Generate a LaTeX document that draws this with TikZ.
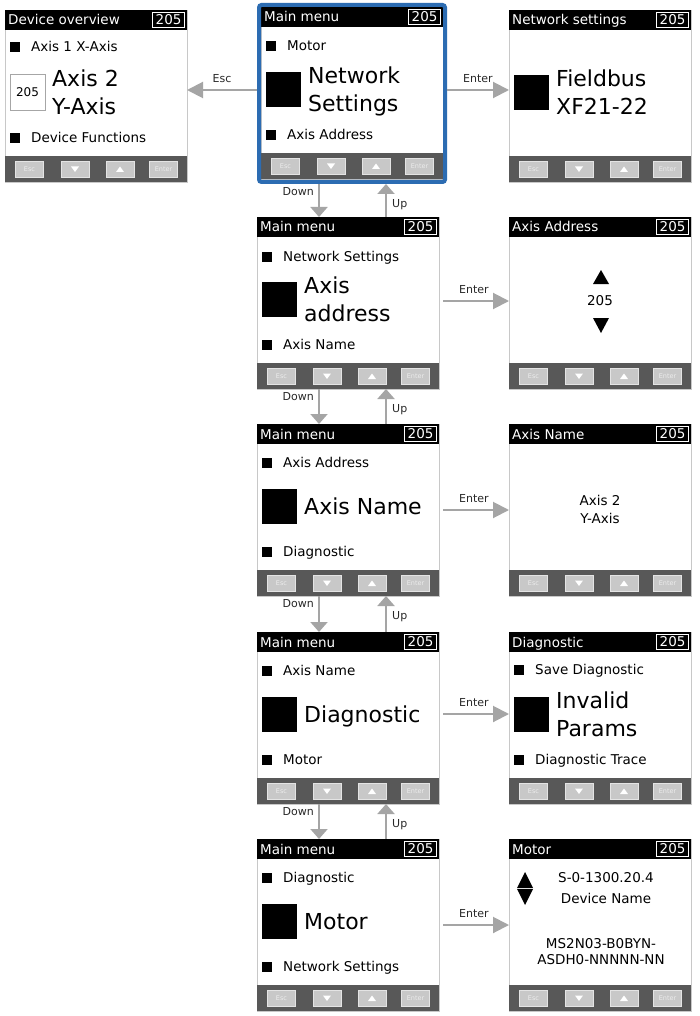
\documentclass[tikz,border=0pt]{standalone}
\usepackage{fontspec}
\setmainfont{DejaVu Sans}
\usetikzlibrary{arrows.meta}
\definecolor{conngray}{RGB}{165,165,165}
\definecolor{barg}{RGB}{88,88,88}
\definecolor{btng}{RGB}{200,200,200}
\definecolor{btnedge}{RGB}{228,228,228}
\definecolor{btntxt}{RGB}{236,236,236}
\definecolor{scredge}{RGB}{200,200,200}
\definecolor{frblue}{RGB}{44,108,178}
\definecolor{lblc}{RGB}{40,40,40}
\tikzset{
 scrbody/.style={draw=scredge, line width=0.8pt, fill=white, minimum width=182pt, minimum height=172pt, inner sep=0pt, outer sep=0pt, anchor=north west},
 tbar/.style={fill=black, minimum width=182pt, minimum height=20pt, inner sep=0pt, outer sep=0pt, anchor=north west},
 ttext/.style={text=white, font=\fontsize{13.5}{16}\selectfont, inner sep=0pt, anchor=base west},
 tnum/.style={draw=white, line width=0.9pt, text=white, font=\fontsize{13.5}{16}\selectfont, minimum width=32pt, minimum height=15pt, inner sep=0pt, text height=9.9pt, text depth=0pt, anchor=east},
 bbar/.style={fill=barg, minimum width=182pt, minimum height=26pt, inner sep=0pt, outer sep=0pt, anchor=south west},
 btn/.style={fill=btng, draw=btnedge, line width=0.8pt, minimum width=28pt, minimum height=16pt, inner sep=0pt, text=btntxt, font=\fontsize{6.5}{7}\selectfont, text height=4.7pt, text depth=0pt},
 bsq/.style={fill=black, minimum size=10pt, inner sep=0pt},
 btxt/.style={anchor=west, inner sep=0pt, font=\fontsize{13.5}{16}\selectfont, execute at begin node=\strut},
 bigsq/.style={fill=black, minimum size=35pt, inner sep=0pt},
 bigtxt/.style={anchor=west, inner sep=0pt, align=left, font=\fontsize{22}{28}\selectfont},
 numsq/.style={draw=gray!70, fill=white, line width=0.8pt, minimum width=35pt, minimum height=36pt, inner sep=0pt, font=\fontsize{12}{14}\selectfont},
 ctxt/.style={anchor=base, inner sep=0pt, font=\fontsize{13.5}{16}\selectfont},
 ctxt2/.style={anchor=center, inner sep=0pt, align=center, font=\fontsize{13.5}{18}\selectfont},
 lbl/.style={inner sep=0pt, text=lblc, font=\fontsize{11}{13}\selectfont},
 conn/.style={draw=conngray, line width=2pt, -{Triangle[length=16pt,width=16pt]}},
 vconn/.style={draw=conngray, line width=2pt, -{Triangle[length=10pt,width=17pt]}},
 bluefr/.style={draw=frblue, line width=4pt, rounded corners=2.5pt, minimum width=186pt, minimum height=177pt, inner sep=0pt, outer sep=2pt, anchor=north west},
}
\newcommand\myscreen[4]{%
  \node[scrbody] (#1) at (#2,#3) {};
  \node[tbar] (#1-bar) at (#1.north west) {};
  \node[ttext] (#1-title) at ([shift={(3pt,-15pt)}]#1.north west) {#4};
  \node[tnum] (#1-num) at ([xshift=-2pt]#1-bar.east) {205};
  \node[bbar] (#1-bb) at (#1.south west) {};
  \node[btn] (#1-b1) at ([xshift=24.5pt]#1-bb.west) {Esc};
  \node[btn] (#1-b2) at ([xshift=70pt]#1-bb.west) {};
  \node[btn] (#1-b3) at ([xshift=115pt]#1-bb.west) {};
  \node[btn] (#1-b4) at ([xshift=158.5pt]#1-bb.west) {Enter};
  \fill[white] ([shift={(-4pt,2.5pt)}]#1-b2.center) -- ++(8pt,0pt) -- ++(-4pt,-5.5pt) -- cycle;
  \fill[white] ([shift={(-4pt,-3pt)}]#1-b3.center) -- ++(8pt,0pt) -- ++(-4pt,5.5pt) -- cycle;
}
\newcommand\mybul[4]{%
  \node[bsq] (#1-sq) at ([shift={(10pt,-#3pt)}]#2.north west) {};
  \node[btxt] (#1) at ([shift={(26pt,-#3pt-1.7pt)}]#2.north west) {#4};
}
\newcommand\mybig[3]{%
  \node[bigsq] (#1-sq) at ([shift={(22.5pt,-82.5pt)}]#2.north west) {};
  \node[bigtxt] (#1) at ([shift={(47pt,-84.5pt)}]#2.north west) {#3};
}
\newcommand\updown[3]{%
  \draw[vconn] ([xshift=62pt]#1.south west) -- ([xshift=62pt]#2.north west);
  \draw[vconn] ([xshift=129pt]#2.north west) -- ([xshift=129pt]#1.south west);
  \node[lbl, anchor=east] (dn#3) at ([shift={(57pt,-8pt)}]#1.south west) {Down};
  \node[lbl, anchor=west] (up#3) at ([shift={(135pt,-21pt)}]#1.south west) {Up};
}
\begin{document}
\begin{tikzpicture}[x=1pt,y=-1pt]
\useasboundingbox[fill=white] (0,0) rectangle (699,1016);
% screens
\myscreen{s1}{5}{10}{Device overview}
\myscreen{s2}{261}{7}{Main menu}
\myscreen{s3}{509}{10}{Network settings}
\myscreen{m2}{257}{217}{Main menu}
\myscreen{m3}{257}{424}{Main menu}
\myscreen{m4}{257}{632}{Main menu}
\myscreen{m5}{257}{839}{Main menu}
\myscreen{d2}{509}{217}{Axis Address}
\myscreen{d3}{509}{424}{Axis Name}
\myscreen{d4}{509}{632}{Diagnostic}
\myscreen{d5}{509}{839}{Motor}
\node[bluefr] (s2f) at (257,3) {};
% device overview
\mybul{s1a}{s1}{37}{Axis 1 X-Axis}
\node[numsq] (s1box) at ([shift={(22.5pt,-82pt)}]s1.north west) {205};
\node[bigtxt] (s1big) at ([shift={(47pt,-84.5pt)}]s1.north west) {\strut Axis 2\\\strut Y-Axis};
\mybul{s1b}{s1}{128}{Device Functions}
% main menu top
\mybul{s2a}{s2}{39}{Motor}
\mybig{s2big}{s2}{\strut Network\\\strut Settings}
\mybul{s2c}{s2}{128}{Axis Address}
% network settings
\mybig{s3big}{s3}{\strut Fieldbus\\\strut XF21-22}
% main menu rows
\mybul{m2a}{m2}{39.5}{Network Settings}
\mybig{m2big}{m2}{\strut Axis\\\strut address}
\mybul{m2c}{m2}{128}{Axis Name}
\mybul{m3a}{m3}{39}{Axis Address}
\mybig{m3big}{m3}{\strut Axis Name}
\mybul{m3c}{m3}{128}{Diagnostic}
\mybul{m4a}{m4}{38.5}{Axis Name}
\mybig{m4big}{m4}{\strut Diagnostic}
\mybul{m4c}{m4}{128}{Motor}
\mybul{m5a}{m5}{38.5}{Diagnostic}
\mybig{m5big}{m5}{\strut Motor}
\mybul{m5c}{m5}{128}{Network Settings}
% axis address
\fill (593,284) -- (609,284) -- (601,270) -- cycle;
\node[ctxt] (d2num) at ([shift={(91pt,-88.5pt)}]d2.north west) {205};
\fill (593,318) -- (609,318) -- (601,333) -- cycle;
% axis name
\node[ctxt2] (d3t) at ([shift={(91pt,-87pt)}]d3.north west) {\strut Axis 2\\\strut Y-Axis};
% diagnostic
\mybul{d4a}{d4}{38}{Save Diagnostic}
\mybig{d4big}{d4}{\strut Invalid\\\strut Params}
\mybul{d4c}{d4}{128}{Diagnostic Trace}
% motor
\fill (517,888) -- (533,888) -- (525,872) -- cycle;
\fill (517,889) -- (533,889) -- (525,905) -- cycle;
\node[ctxt] (d5a) at ([shift={(97pt,-43pt)}]d5.north west) {S-0-1300.20.4};
\node[ctxt] (d5b) at ([shift={(97pt,-64.5pt)}]d5.north west) {Device Name};
\node[ctxt] (d5c) at ([shift={(92pt,-109pt)}]d5.north west) {MS2N03-B0BYN-};
\node[ctxt] (d5d) at ([shift={(92pt,-125pt)}]d5.north west) {ASDH0-NNNNN-NN};
% connectors
\draw[conn] ([yshift=3.5pt]s2f.west) -- ([yshift=6pt]s1.east) node[midway, above=6pt, lbl] (escl) {Esc};
\draw[conn] ([yshift=3.5pt]s2f.east) -- ([yshift=6pt]s3.west) node[midway, above=6pt, lbl] (en1) {Enter};
\draw[conn, shorten <=4pt] ([yshift=2pt]m2.east) -- ([yshift=2pt]d2.west) node[midway, above=6pt, lbl] (en2) {Enter};
\draw[conn, shorten <=4pt] ([yshift=0pt]m3.east) -- ([yshift=0pt]d3.west) node[midway, above=6pt, lbl] (en3) {Enter};
\draw[conn, shorten <=4pt] ([yshift=4pt]m4.east) -- ([yshift=4pt]d4.west) node[midway, above=6pt, lbl] (en4) {Enter};
\draw[conn, shorten <=4pt] ([yshift=0pt]m5.east) -- ([yshift=0pt]d5.west) node[midway, above=6pt, lbl] (en5) {Enter};
\updown{s2f}{m2}{1}
\updown{m2}{m3}{2}
\updown{m3}{m4}{3}
\updown{m4}{m5}{4}
\end{tikzpicture}
\end{document}
